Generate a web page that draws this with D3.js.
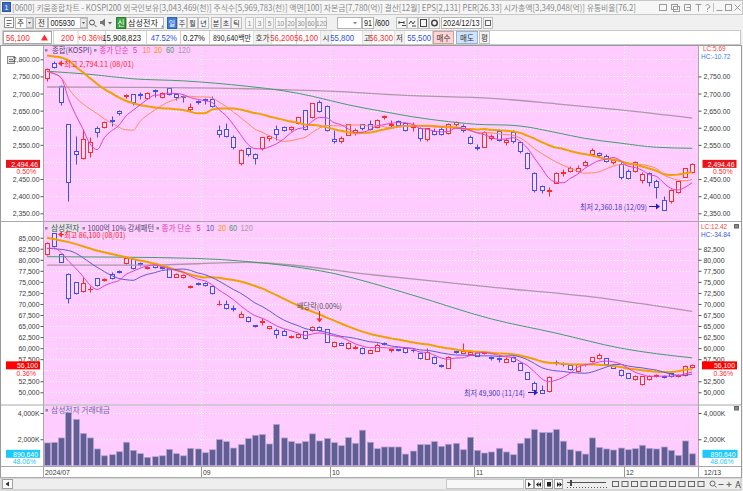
<!DOCTYPE html>
<html><head><meta charset="utf-8">
<script src="https://cdn.jsdelivr.net/npm/d3@7/dist/d3.min.js"></script>
<style>
  html,body{margin:0;padding:0;background:#f0f0f0;}
  svg{display:block;}
</style>
</head><body>
<div id="chart"></div>
<script>
// ---------- data ----------
const dates = ('07/31 08/01 08/02 08/05 08/06 08/07 08/08 08/09 08/12 08/13 08/14 08/16 08/19 08/20 08/21 08/22 08/23 08/26 08/27 08/28 08/29 08/30 ' +
  '09/02 09/03 09/04 09/05 09/06 09/09 09/10 09/11 09/12 09/13 09/19 09/20 09/23 09/24 09/25 09/26 09/27 09/30 ' +
  '10/02 10/04 10/07 10/08 10/10 10/11 10/14 10/15 10/16 10/17 10/18 10/21 10/22 10/23 10/24 10/25 10/28 10/29 10/30 10/31 ' +
  '11/01 11/04 11/05 11/06 11/07 11/08 11/11 11/12 11/13 11/14 11/15 11/18 11/19 11/20 11/21 11/22 11/25 11/26 11/27 11/28 11/29 ' +
  '12/02 12/03 12/04 12/05 12/06 12/09 12/10 12/11 12/12 12/13').split(' ');

const monthLabels = ['2024/07', '09', '10', '11', '12'];

// KOSPI [open, high, low, close]
const kospi = [
  [2746,2776,2736,2771],[2788,2794.11,2776,2778],[2722,2724,2666,2676],[2611,2612,2387,2442],[2532,2576,2493,2522],
  [2512,2595,2508,2568],[2529,2574,2515,2557],[2600,2605,2574,2588],[2601,2621,2598,2618],[2624,2634,2606,2621],
  [2648,2651,2638,2644],[2692,2699,2688,2697],[2698,2700,2666,2674],[2700,2705,2685,2697],[2687,2703,2685,2701],
  [2710,2712,2690,2708],[2690,2705,2688,2702],[2717,2720,2695,2698],[2700,2702,2680,2689],[2693,2696,2675,2690],
  [2654,2673,2650,2662],[2678,2682,2670,2674],[2684,2687,2668,2681],[2683,2694,2660,2665],[2593,2607,2574,2581],
  [2595,2615,2574,2575],[2574,2580,2538,2544],[2496,2537,2491,2536],[2540,2545,2518,2523],[2522,2526,2494,2513],
  [2540,2572,2535,2572],[2571,2580,2562,2575],[2595,2608,2565,2581],[2601,2606,2590,2593],[2595,2605,2590,2602],
  [2613,2632,2610,2632],[2652,2653,2593,2596],[2630,2672,2628,2672],[2674,2681,2645,2650],[2664,2666,2590,2593],
  [2566,2592,2555,2562],[2562,2575,2555,2570],[2580,2612,2578,2610],[2588,2598,2580,2594],[2610,2612,2592,2599],
  [2610,2622,2594,2597],[2601,2625,2598,2623],[2630,2638,2625,2633],[2607,2624,2603,2610],[2620,2622,2605,2609],
  [2615,2617,2590,2594],[2601,2618,2590,2604],[2600,2602,2562,2571],[2566,2600,2560,2600],[2591,2598,2578,2581],
  [2595,2601,2578,2583],[2586,2614,2583,2612],[2610,2620,2605,2618],[2605,2610,2588,2594],[2574,2580,2553,2556],
  [2545,2553,2535,2542],[2545,2590,2543,2589],[2569,2583,2565,2577],[2591,2595,2560,2564],[2557,2570,2550,2565],
  [2588,2592,2555,2561],[2559,2560,2525,2532],[2525,2530,2480,2483],[2467,2470,2412,2417],[2430,2433,2410,2419],
  [2414,2428,2400,2417],[2440,2470,2438,2469],[2468,2478,2460,2472],[2475,2488,2472,2482],[2474,2490,2470,2481],
  [2490,2505,2488,2501],[2524,2540,2520,2534],[2527,2530,2515,2520],[2518,2522,2500,2503],[2500,2510,2495,2505],
  [2495,2500,2450,2456],[2475,2480,2450,2454],[2475,2502,2470,2500],[2448,2470,2440,2464],[2467,2470,2430,2442],
  [2445,2450,2395,2428],[2388,2400,2360.18,2361],[2385,2420,2380,2418],[2412,2445,2408,2443],[2457,2483,2455,2482],
  [2472,2498,2468,2494.46]
];

const kospiMa5 = [2765,2758,2745,2685,2638,2597,2553,2536,2571,2591,2606,2634,2651,2667,2683,2695,2696,2701,2700,2697,
  2688,2683,2679,2674,2653,2635,2609,2580,2552,2539,2538,2544,2553,2567,2585,2597,2601,2619,2630,2629,
  2615,2609,2597,2586,2587,2594,2605,2609,2613,2615,2614,2610,2598,2596,2590,2588,2589,2599,2598,2593,
  2585,2580,2572,2566,2567,2571,2560,2541,2511,2482,2453,2441,2439,2452,2464,2481,2494,2504,2508,2513,
  2504,2488,2484,2476,2463,2458,2439,2423,2418,2426,2440];
const kospiMa10 = [2764,2758,2746,2715,2689,2670,2655,2641,2626,2614,2602,2594,2593,2619,2637,2651,2665,2676,2683,2690,
  2692,2690,2690,2687,2675,2662,2646,2630,2613,2596,2587,2577,2567,2560,2562,2567,2572,2586,2599,2607,
  2606,2605,2608,2608,2608,2604,2607,2603,2599,2601,2604,2608,2604,2604,2602,2601,2600,2598,2597,2591,
  2586,2585,2585,2582,2580,2578,2570,2556,2539,2525,2512,2500,2490,2482,2473,2467,2468,2471,2480,2488,
  2492,2491,2494,2492,2488,2481,2463,2453,2447,2445,2449];
const kospiMa20 = [2811,2808,2805,2797,2778,2762,2745,2728,2713,2701,2689,2679,2672,2666,2663,2659,2657,2656,2654,2652,
  2647,2642,2642,2653,2656,2656,2656,2653,2648,2643,2639,2633,2628,2623,2618,2615,2609,2608,2606,2601,
  2596,2591,2587,2584,2585,2586,2590,2595,2599,2604,2605,2606,2606,2606,2605,2603,2603,2601,2598,2596,
  2595,2596,2594,2593,2591,2589,2585,2577,2568,2558,2549,2542,2538,2532,2527,2523,2519,2514,2509,2507,
  2502,2496,2492,2487,2481,2474,2465,2462,2463,2467,2470];
// sparse readings [day index, value]
const kospiMa60 = [[0,2765],[6,2756],[12,2743],[19,2737],[28,2721],[33,2708],[37,2692],[42,2667],[47,2647],
  [51,2632],[56,2618],[61,2609],[64,2608],[66,2605],[71,2586],[75,2569],[80,2555],[85,2543],[90,2540]];
const kospiMa120 = [[0,2719],[12,2718],[28,2714],[40,2706],[51,2694],[62,2686],[71,2670],[80,2652],[90,2628]];

// Samsung Electronics [open, high, low, close]
const samsung = [
  [81200,84100,81000,83900],[86000,86100,83000,83100],[81200,81300,79500,79600],[76700,76900,70300,71400],[74900,75000,72300,72500],
  [73000,76000,72600,74700],[73300,74000,72700,73400],[75800,75900,74000,74400],[75400,75900,75100,75600],[76700,77200,75700,75800],
  [77400,77600,76900,77200],[79200,80500,79000,80300],[80200,80300,78000,78200],[79300,79500,78700,79000],[78100,78700,78000,78400],
  [78800,79000,78200,78400],[78300,78500,77900,78200],[78200,78300,76000,76200],[76200,77000,76000,76700],[76000,76800,75900,76500],
  [73900,74400,73700,74100],[74800,75000,74400,74600],[74700,75000,74000,74400],[74100,74300,72200,72400],[70000,70900,69700,70100],
  [70100,70800,68900,69000],[69100,69700,68300,68900],[67100,68300,67000,67700],[67100,67200,66000,66200],[65200,65300,64800,65000],
  [65900,66800,65300,66100],[64500,65000,64300,64900],[64100,64500,62200,63100],[63900,64300,62900,63000],[62600,63000,62300,62800],
  [62600,63500,62400,63300],[63800,63900,62100,62200],[64000,64900,63800,64700],[64700,65000,63900,64200],[64300,64400,61400,61500],
  [60400,61700,60200,61300],[61200,61400,60600,60700],[60100,61300,59900,61100],[60100,60600,59800,60300],[60100,60200,58700,58900],
  [59000,59900,58800,59500],[59400,61200,59300,60800],[61100,61300,60600,61000],[59500,59900,59200,59700],[59700,59900,59300,59600],
  [60000,60100,59000,59200],[59600,59800,59100,59500],[59000,59100,57600,57700],[57600,60000,57500,59100],[58100,58300,56500,56600],
  [56200,56500,55700,55900],[55600,58300,55500,58100],[59300,59600,58900,59100],[59000,61100,58800,59300],[58700,59500,58500,59200],
  [59200,59300,58200,58300],[59000,59400,58600,59200],[57900,58200,57300,57700],[57700,58000,56900,57500],[56950,57900,56800,57650],
  [58000,58300,56900,57000],[56700,56800,55000,55000],[54600,54700,52900,53000],[52100,52600,50300,50600],[50500,51700,49900,49900],
  [50200,53800,50100,53500],[56800,57300,56200,56700],[56500,56900,56000,56300],[56100,56200,55000,55300],[54900,56700,54700,56400],
  [56400,56700,55900,56300],[57100,58000,56900,57900],[57700,58800,57500,58400],[57700,57800,56100,56300],[55900,56300,55400,55600],
  [55100,55200,53800,53900],[54300,54400,53200,53300],[52900,53900,52800,53700],[51800,53700,51600,53600],[53000,54000,52800,53700],
  [53600,54100,53400,53900],[53600,53900,53200,53400],[54300,54500,53500,53700],[53600,54100,53400,53900],[53900,56200,53800,55900],
  [55800,56300,55500,56100]
];

const samsungMa5 = [82600,82600,81600,79700,78100,76260,74320,73280,74120,74780,75280,76660,77420,78100,78620,78860,78440,78040,77580,77200,
  76340,75620,75260,74400,73120,72100,70960,69620,68380,67360,66780,65980,65060,64420,63980,63420,62880,63200,63440,63180,
  62780,62480,61760,60980,60460,60100,60120,60100,59980,60120,60060,59800,59140,59020,58420,57760,57480,57760,57800,58320,
  58800,59020,58740,58380,58070,57810,56970,56030,54650,53100,52400,52740,53400,54340,55640,56200,56440,56860,57060,56900,
  56420,55500,54560,54020,53640,53640,53660,53660,53720,54160,54600];
const samsungMa10 = [82600,null,null,82100,null,null,null,78300,null,76440,75770,75490,75350,76110,76700,77070,77550,77730,77840,77910,
  77600,77030,76650,75990,75160,74220,73290,72440,71390,70240,69440,68470,67340,66400,65670,65100,64430,64130,63930,63580,
  63100,62680,62480,62210,61820,61440,61300,60930,60480,60290,60080,59960,59620,59500,59270,58910,58640,58450,58410,58370,
  58280,58250,58250,58090,58195,58305,57995,57385,56515,55585,55105,54855,54715,54495,54370,54300,54590,55130,55700,56270,
  56310,55970,55710,55540,55270,55030,54580,54110,53870,53900,54120];
const samsungMa20 = [85000,null,null,84000,null,null,null,82100,null,null,null,null,80200,null,null,null,78700,null,null,77175,
  76685,76260,76000,76050,75930,75645,75420,75085,74615,74075,73520,72750,71995,71195,70415,69660,68860,68285,67660,66910,
  66270,65575,64910,64305,63745,63270,62865,62530,62205,61935,61590,61320,61050,60855,60545,60175,59970,59690,59445,59330,
  59180,59105,58935,58795,58733,58608,58318,57918,57463,56978,56693,56553,56483,56293,56283,56303,56293,56258,56108,55928,
  55708,55413,55213,55018,54820,54665,54585,54620,54785,55085,55215];
const samsungMa60 = [[0,80700],[10,80600],[21,80300],[28,79600],[40,76900],[51,72000],[62,66600],[71,63400],[80,60000],[90,57800]];
const samsungMa120 = [[0,78800],[14,78800],[28,79400],[46,76500],[62,73800],[76,71600],[90,68300]];

// Samsung trading value, in K (x 1,000 백만원)
const tradeValue = [1.72,1.76,2.1,4.03,3.51,2.44,2.1,1.26,0.74,0.82,1.05,1.77,1.15,0.9,0.62,0.67,0.74,1.23,0.9,0.74,1.31,1.26,
  0.97,1.2,1.97,1.82,1.33,1.59,2.05,2.3,2.36,1.64,3.13,2.1,1.82,1.69,1.82,2.41,1.87,2.05,
  1.74,1.51,2.13,1.69,2.69,1.77,1.28,1.41,1.41,1.41,0.87,1.1,1.59,1.59,1.82,1.46,1.62,1.69,1.2,2.15,
  1.15,0.95,1.03,1.31,1.03,0.82,1.69,2.08,2.74,2.51,2.51,2.74,1.85,1.2,1.1,0.87,2.1,1.38,1.26,1.18,1.33,
  1.2,1.28,1.54,1.31,1.26,1.41,1.15,0.77,1.87,0.89];

const kospiTicks = d3.range(2350, 2801, 50);
const samsungTicks = d3.range(50000, 85001, 2500);
const valueTicks = [2000, 4000];

// ---------- look ----------
const NUM = "'Liberation Sans',Arial,sans-serif";
const KR = "'Noto Sans CJK KR','Noto Sans',sans-serif";
const SYM = "'DejaVu Sans',sans-serif";
const PINK = '#ffccff', RED = '#ff2a2a', BLUE = '#4050ee';
const BODY = '#ffdcff';
const maColorsK = ['#e040c8', '#ff8a5c', '#f0a000', '#3f9e6c', '#ab98a8'];
const maColorsS = ['#e040c8', '#5c5cd0', '#f0a000', '#3f9e6c', '#ab98a8'];

const svg = d3.select('#chart').append('svg').attr('width', 743).attr('height', 491)
  .style('font-family', NUM);

svg.append('rect').attr('width', 743).attr('height', 491).attr('fill', '#f0f0f0');

// text helper; o.len squeezes the text to a measured width, numeric text gets class "n"
function t(g, x, y, s, o = {}) {
  const el = g.append('text').attr('x', x).attr('y', y).text(s)
    .attr('font-size', o.size || 8).attr('fill', o.fill || '#333')
    .attr('font-family', o.font || NUM).attr('text-anchor', o.anchor || 'start');
  if (o.len) el.attr('textLength', o.len).attr('lengthAdjust', 'spacingAndGlyphs');
  else if (!o.font) el.classed('n', true);
  return el;
}
function box(g, x, y, w, h, fill, stroke) {
  return g.append('rect').attr('x', x).attr('y', y).attr('width', w).attr('height', h)
    .attr('fill', fill || '#fff').attr('stroke', stroke || '#b4b4b4');
}

// ---------- window chrome ----------
const hdr = svg.append('g');
box(hdr, 0.5, 0.5, 742, 14, '#f6f6f6', '#c8c8c8');
box(hdr, 2.5, 2.5, 8, 9, '#3a6cc8', '#2a50a0');
t(hdr, 6.5, 10, '1', { fill: '#fff', anchor: 'middle', size: 8 });
t(hdr, 12, 10.5, '[0600] 키움종합차트 - KOSPI200 외국인보유[3,043,469(천)] 주식수[5,969,783(천)] 액면[100] 자본금[7,780(억)] 결산[12월] EPS[2,131] PER[26.33] 시가총액[3,349,048(억)] 유통비율[76.2]',
  { font: KR, size: 8.5, fill: '#8a8a8a', len: 624 });
// title-bar buttons drawn as small shapes
const ib = hdr.append('g').attr('fill', 'none').attr('stroke', '#9a9a9a');
ib.append('rect').attr('x', 659.5).attr('y', 4.5).attr('width', 7).attr('height', 6);
ib.append('rect').attr('x', 671.5).attr('y', 4.5).attr('width', 6).attr('height', 5);
ib.append('rect').attr('x', 673.5).attr('y', 6.5).attr('width', 6).attr('height', 5);
ib.append('path').attr('d', 'M684.5 4.5h6v6h-6zM686.5 7.5h4');
ib.append('path').attr('d', 'M695.5 4.5h6M698.5 4.5v7');
ib.append('path').attr('d', 'M705.5 5.5q2-2 4 0t-2 3v1.5M707.5 11v1');
ib.append('path').attr('d', 'M716.5 10.5h6');
ib.append('rect').attr('x', 725.5).attr('y', 4.5).attr('width', 6).attr('height', 6);
ib.append('path').attr('d', 'M734.5 4.5l6 6M740.5 4.5l-6 6');
hdr.append('line').attr('x1', 713.5).attr('x2', 713.5).attr('y1', 3).attr('y2', 12).attr('stroke', '#c0c0c0');

// toolbar row
const tb = svg.append('g');
box(tb, 4.5, 17.5, 9, 10, '#fff', '#909090');
tb.append('path').attr('d', 'M6.5 20.5h5M6.5 23.5h5M6.5 25.5h3').attr('stroke', '#707070');
box(tb, 15.5, 17.5, 18, 11);
t(tb, 17, 26, '주', { font: KR, size: 7.5 });
box(tb, 26.5, 18.5, 6, 9, '#e8e8e8', '#c0c0c0');
tb.append('path').attr('d', 'M28 22h3l-1.5 2z').attr('fill', '#555');
box(tb, 35.5, 17.5, 12, 11, '#f4f4f4');
t(tb, 41.5, 26, '전', { font: KR, size: 7.5, anchor: 'middle' });
box(tb, 48.5, 17.5, 39, 11);
t(tb, 50.5, 26, '005930', { size: 8.5, fill: '#222' });
box(tb, 80.5, 18.5, 6, 9, '#e8e8e8', '#c0c0c0');
tb.append('path').attr('d', 'M82 22h3l-1.5 2z').attr('fill', '#555');
tb.append('circle').attr('cx', 92).attr('cy', 22.5).attr('r', 2.5).attr('fill', 'none').attr('stroke', '#555');
tb.append('line').attr('x1', 94).attr('y1', 24.5).attr('x2', 96.5).attr('y2', 27).attr('stroke', '#555');
tb.append('path').attr('d', 'M100 21h2l3-2.5v8l-3-2.5h-2z').attr('fill', '#777');
tb.append('path').attr('d', 'M108 22h4l-2 2.5z').attr('fill', '#666');
box(tb, 116.5, 17.5, 9, 11, '#3aa040', '#2a8030');
t(tb, 121, 26, '신', { font: KR, size: 7.5, fill: '#fff', anchor: 'middle' });
box(tb, 126.5, 17.5, 37, 11);
t(tb, 128, 26, '삼성전자', { font: KR, size: 8, fill: '#222', len: 30 });
tb.append('path').attr('d', 'M161 27.5l2-3v3z').attr('fill', '#888');
const periods = [[167, 9, '일'], [177, 9, '주'], [187, 10, '월'], [198, 10, '년'], [211, 9, '분'], [221, 9, '초'], [231, 10, '틱']];
periods.forEach((d, i) => {
  box(tb, d[0] + 0.5, 17.5, d[1], 11, i === 0 ? '#3d7fd8' : '#f6f6f6', i === 0 ? '#2f62b0' : '#c0c0c0');
  t(tb, d[0] + 0.5 + d[1] / 2, 26, d[2], { font: KR, size: 7, anchor: 'middle', fill: i === 0 ? '#fff' : '#333' });
});
const mins = [[245, 8, '1'], [255, 8, '3'], [265, 8, '5'], [275, 10, '10'], [286, 9, '20'], [296, 9, '30'], [306, 9, '60'], [316, 10, '120']];
mins.forEach(d => {
  box(tb, d[0] + 0.5, 17.5, d[1], 11, '#f6f6f6', '#c8c8c8');
  t(tb, d[0] + 0.5 + d[1] / 2, 26, d[2], { size: 7.5, anchor: 'middle', fill: '#8a8a8a' });
});
box(tb, 337.5, 17.5, 24, 11);
tb.append('path').attr('d', 'M353 22h4l-2 2.5z').attr('fill', '#888');
box(tb, 362.5, 17.5, 11, 11);
t(tb, 372, 26, '91', { size: 8.5, anchor: 'end', fill: '#222' });
t(tb, 375, 26, '/600', { size: 8.5, fill: '#222' });
[396, 407, 418, 429].forEach(x => box(tb, x + 0.5, 17.5, 10, 11, '#f6f6f6', '#c0c0c0'));
tb.append('path').attr('d', 'M399 22.5h5M399 21v3M404 21v3M402 25.5h4').attr('stroke', '#444').attr('fill', 'none');
tb.append('path').attr('d', 'M409 24l2-3 2 3 2-3M412 26h4').attr('stroke', '#444').attr('fill', 'none');
tb.append('rect').attr('x', 420.5).attr('y', 19.5).attr('width', 6).attr('height', 7).attr('fill', 'none').attr('stroke', '#444');
tb.append('circle').attr('cx', 434.5).attr('cy', 23).attr('r', 2.8).attr('fill', 'none').attr('stroke', '#444').attr('stroke-width', 1.5);
box(tb, 441.5, 17.5, 40, 11);
t(tb, 443, 26, '2024/12/13', { size: 8.5, fill: '#222' });
box(tb, 483.5, 17.5, 9, 11, '#f6f6f6', '#c0c0c0');
tb.append('rect').attr('x', 485.5).attr('y', 20.5).attr('width', 5).attr('height', 5).attr('fill', 'none').attr('stroke', '#666');

// quote row
const qr = svg.append('g');
box(qr, 2.5, 30.5, 738, 14, '#fff', '#c8c8c8');
box(qr, 3.5, 31.5, 48, 12, 'none', '#a8a8a8');
const cells = [53, 77.5, 105, 146, 180, 209, 253, 271, 296, 320, 331, 362, 371, 394, 404, 432];
cells.forEach(x => qr.append('line').attr('x1', x + 0.5).attr('x2', x + 0.5).attr('y1', 31).attr('y2', 44).attr('stroke', '#d0d0d0'));
[[253, 18, '호가'], [320, 11, '시'], [362, 9, '고'], [394, 10, '저']].forEach(d => {
  box(qr, d[0] + 0.5, 31, d[1], 13, '#f2f2f2', 'none');
  t(qr, d[0] + 0.5 + d[1] / 2, 41, d[2], { font: KR, size: 7.5, anchor: 'middle' });
});
t(qr, 6, 41, '56,100', { size: 9, fill: RED });
qr.append('path').attr('d', 'M41 40.5l3.5-6 3.5 6z').attr('fill', RED);
t(qr, 74, 41, '200', { size: 9, fill: RED, anchor: 'end' });
t(qr, 104, 41, '+0.36%', { size: 9, fill: RED, anchor: 'end' });
t(qr, 141, 41, '15,908,823', { size: 9, fill: '#222', anchor: 'end' });
t(qr, 177, 41, '47.52%', { size: 9, fill: '#3050e0', anchor: 'end' });
t(qr, 205, 41, '0.27%', { size: 9, fill: '#222', anchor: 'end' });
t(qr, 213, 41, '890,640백만', { size: 8, fill: '#222', font: KR, len: 38 });
t(qr, 294, 41, '56,200', { size: 9, fill: RED, anchor: 'end' });
t(qr, 318, 41, '56,100', { size: 9, fill: RED, anchor: 'end' });
t(qr, 354, 41, '55,800', { size: 9, fill: '#3050e0', anchor: 'end' });
t(qr, 393, 41, '56,300', { size: 9, fill: RED, anchor: 'end' });
t(qr, 431, 41, '55,500', { size: 9, fill: '#3050e0', anchor: 'end' });
box(qr, 433.5, 31.5, 20, 12, '#ffd4d4', '#d0a0a0');
t(qr, 443.5, 41, '매수', { font: KR, size: 7.5, anchor: 'middle' });
box(qr, 456.5, 31.5, 21, 12, '#cfe2ff', '#9ab0d0');
t(qr, 467, 41, '매도', { font: KR, size: 7.5, anchor: 'middle' });
box(qr, 479.5, 31.5, 10, 12, '#f4f4f4', '#c0c0c0');
t(qr, 484.5, 41, '평', { font: KR, size: 7.5, anchor: 'middle' });

// ---------- chart frame ----------
const frame = svg.append('g');
box(frame, 0.5, 45.5, 741, 432, '#fff', '#9a9a9a');
const panels = [[46, 221], [222, 404.5], [405.5, 466]];
panels.forEach(p => frame.append('rect').attr('x', 44).attr('y', p[0]).attr('width', 654.5).attr('height', p[1] - p[0]).attr('fill', PINK));
[221.5, 405, 466.5].forEach(y => frame.append('line').attr('x1', 1).attr('x2', 741).attr('y1', y).attr('y2', y).attr('stroke', '#a8a8a8'));
[43.5, 698.5].forEach(x => frame.append('line').attr('x1', x).attr('x2', x).attr('y1', 46).attr('y2', 477).attr('stroke', '#a8a8a8'));
// small panel-menu icon at the top left
box(frame, 7.5, 56.5, 7, 7, '#e4e4e4', '#8a8a8a');
frame.append('path').attr('d', 'M9 59.5h4M9 61.5h4').attr('stroke', '#777');

// ---------- scales ----------
const xb = d3.scaleBand().domain(d3.range(dates.length)).range([43.4, 695.8]);
const xc = i => Math.round(xb(i) + xb.bandwidth() / 2);
const yK = d3.scaleLinear().domain([2350, 2800]).range([213.3, 59.3]);
const yS = d3.scaleLinear().domain([50000, 85000]).range([392.3, 237.7]);
const yV = d3.scaleLinear().domain([0, 4000]).range([465.5, 413]);
const px = v => Math.round(v) + 0.5;

const monthIdx = monthLabels.map((m, k) => k === 0 ? 0 : dates.findIndex(d => d.startsWith(m + '/')));

// grid
const grid = svg.append('g').attr('stroke', '#ffffff').attr('stroke-dasharray', '1,2');
[[kospiTicks, yK], [samsungTicks, yS], [valueTicks, yV]].forEach(([ticks, y]) => {
  grid.append('g').selectAll('line').data(ticks).join('line')
    .attr('x1', 44).attr('x2', 698).attr('y1', d => px(y(d))).attr('y2', d => px(y(d)));
});
grid.append('g').selectAll('line').data(monthIdx.slice(1)).join('line')
  .attr('x1', i => px(xb(i))).attr('x2', i => px(xb(i))).attr('y1', 46).attr('y2', 466);

// axes
function styleAxis(g) {
  g.select('.domain').remove();
  g.attr('font-family', NUM).attr('font-size', 8);
  g.selectAll('line').attr('stroke', '#555');
  g.selectAll('text').attr('fill', '#3a3a3a').classed('n', true);
}
const fK = d3.format(',.2f'), fS = d3.format(',');
svg.append('g').attr('transform', 'translate(43.5,0)')
  .call(d3.axisLeft(yK).tickValues(kospiTicks.filter(v => v !== 2500)).tickSize(3).tickPadding(1).tickFormat(fK)).call(styleAxis);
svg.append('g').attr('transform', 'translate(698.5,0)')
  .call(d3.axisRight(yK).tickValues(kospiTicks.filter(v => v !== 2500 && v !== 2800)).tickSize(3).tickPadding(2).tickFormat(fK)).call(styleAxis);
svg.append('g').attr('transform', 'translate(43.5,0)')
  .call(d3.axisLeft(yS).tickValues(samsungTicks.filter(v => v !== 55000)).tickSize(3).tickPadding(1).tickFormat(fS)).call(styleAxis);
svg.append('g').attr('transform', 'translate(698.5,0)')
  .call(d3.axisRight(yS).tickValues(samsungTicks.filter(v => v !== 55000 && v !== 85000)).tickSize(3).tickPadding(2).tickFormat(fS)).call(styleAxis);
svg.append('g').attr('transform', 'translate(43.5,0)')
  .call(d3.axisLeft(yV).tickValues(valueTicks).tickSize(3).tickPadding(1).tickFormat(d => fS(d) + 'K')).call(styleAxis);
svg.append('g').attr('transform', 'translate(698.5,0)')
  .call(d3.axisRight(yV).tickValues(valueTicks).tickSize(3).tickPadding(2).tickFormat(d => fS(d) + 'K')).call(styleAxis);

// x axis labels
const xa = svg.append('g');
xa.selectAll('line').data(monthIdx.slice(1)).join('line')
  .attr('x1', i => px(xb(i))).attr('x2', i => px(xb(i))).attr('y1', 467).attr('y2', 477).attr('stroke', '#999');
xa.selectAll('text').data(monthIdx).join('text').classed('n', true)
  .attr('x', (i, k) => k === 0 ? 45 : px(xb(i)) + 1.5).attr('y', 475)
  .attr('font-size', 8).attr('fill', '#3a3a3a').text((i, k) => monthLabels[k]);
t(xa, 704, 475, dates[dates.length - 1], { size: 8, fill: '#3a3a3a' });

// ---------- candles ----------
function drawCandles(data, y) {
  const g = svg.append('g');
  const col = (d, i) => {
    const prev = i > 0 ? data[i - 1][3] : d[0];
    return (d[3] > d[0] || (d[3] === d[0] && d[3] >= prev)) ? RED : BLUE;
  };
  data.forEach((d, i) => {
    const c = xc(i), color = col(d, i);
    const yt = px(y(Math.max(d[0], d[3]))), yb = px(y(Math.min(d[0], d[3])));
    const yh = px(y(d[1])), yl = px(y(d[2]));
    if (yb - yt < 1) {
      g.append('line').attr('x1', c + 0.5).attr('x2', c + 0.5).attr('y1', yh).attr('y2', yl).attr('stroke', color);
      g.append('line').attr('x1', c - 2).attr('x2', c + 3).attr('y1', yt).attr('y2', yt).attr('stroke', color);
    } else {
      if (yh < yt) g.append('line').attr('x1', c + 0.5).attr('x2', c + 0.5).attr('y1', yh).attr('y2', yt).attr('stroke', color);
      if (yl > yb) g.append('line').attr('x1', c + 0.5).attr('x2', c + 0.5).attr('y1', yb).attr('y2', yl).attr('stroke', color);
      g.append('rect').attr('x', c - 1.5).attr('y', yt).attr('width', 4).attr('height', yb - yt)
        .attr('fill', BODY).attr('stroke', color);
    }
  });
}
drawCandles(kospi, yK);
drawCandles(samsung, yS);

// trading value bars
svg.append('g').selectAll('rect').data(tradeValue).join('rect')
  .attr('x', (d, i) => xc(i) - 2.5).attr('width', 6)
  .attr('y', d => yV(d * 1000)).attr('height', d => yV(0) - yV(d * 1000))
  .attr('fill', '#605e92').attr('stroke', '#b4a4d8').attr('stroke-width', 0.7);

// ---------- moving averages ----------
const toPts = arr => Array.isArray(arr[0]) ? arr : arr.map((v, i) => [i, v]).filter(d => d[1] != null);
function drawMa(series, y, colors) {
  const g = svg.append('g').attr('fill', 'none');
  const widths = [1, 1, 2, 1, 1.3];
  // long averages first, short ones on top
  [4, 3, 2, 1, 0].forEach(k => {
    const line = d3.line().x(d => xb(d[0]) + xb.bandwidth() / 2).y(d => y(d[1])).curve(d3.curveMonotoneX);
    g.append('path').attr('d', line(toPts(series[k]))).attr('stroke', colors[k]).attr('stroke-width', widths[k]);
  });
}
drawMa([kospiMa5, kospiMa10, kospiMa20, kospiMa60, kospiMa120], yK, maColorsK);
drawMa([samsungMa5, samsungMa10, samsungMa20, samsungMa60, samsungMa120], yS, maColorsS);

// ---------- legends ----------
function bullet(g, x, y) { g.append('rect').attr('x', x).attr('y', y - 4).attr('width', 2.5).attr('height', 2.5).attr('fill', '#8a8a9a'); }
const lg = svg.append('g');
bullet(lg, 45, 53);
t(lg, 52, 53, '종합(KOSPI)', { font: KR, size: 8, fill: '#4a4a6a', len: 40 });
bullet(lg, 94, 53);
t(lg, 99.5, 53, '종가 단순', { font: KR, size: 8, fill: '#e040a8', len: 29 });
[[133, '5'], [142.5, '10'], [154, '20'], [166, '60'], [178, '120']].forEach((d, k) =>
  t(lg, d[0], 53, d[1], { size: 8.5, fill: k === 0 ? '#e040a8' : maColorsK[k] }));

bullet(lg, 45, 231);
box(lg, 49.5, 222.5, 31, 10, '#e6e6e6', 'none');
t(lg, 51, 230.5, '삼성전자', { font: KR, size: 8, fill: '#4a4a6a', len: 28.5 });
bullet(lg, 82.5, 231);
t(lg, 87.5, 230.5, '1000억 10% 강세패턴', { font: KR, size: 8, fill: '#4a4a6a', len: 66.5 });
bullet(lg, 156.5, 231);
t(lg, 161.5, 230.5, '종가 단순', { font: KR, size: 8, fill: '#e040a8', len: 30 });
[[196.5, '5'], [206, '10'], [218, '20'], [229, '60'], [240.5, '120']].forEach((d, k) =>
  t(lg, d[0], 230.5, d[1], { size: 8.5, fill: k === 0 ? '#e040a8' : maColorsS[k] }));

bullet(lg, 45.5, 413);
t(lg, 51, 413, '삼성전자 거래대금', { font: KR, size: 8, fill: '#6a68a8', len: 59 });

// ---------- annotations ----------
const an = svg.append('g');
function arrowLeft(g, x, y, len, color) {
  g.append('path').attr('d', `M${x} ${y}l4 -3v6z`).attr('fill', color);
  g.append('line').attr('x1', x + 3).attr('x2', x + len).attr('y1', y).attr('y2', y).attr('stroke', color);
}
function arrowRight(g, x, y, len, color) {
  g.append('line').attr('x1', x).attr('x2', x + len - 3).attr('y1', y).attr('y2', y).attr('stroke', color);
  g.append('path').attr('d', `M${x + len} ${y}l-4 -3v6z`).attr('fill', color);
}
const hiK = d3.maxIndex(kospi, d => d[1]), loK = d3.minIndex(kospi, d => d[2]);
const hiS = d3.maxIndex(samsung, d => d[1]), loS = d3.minIndex(samsung, d => d[2]);
arrowLeft(an, xc(hiK) + 4, px(yK(kospi[hiK][1])) + 2, 6, RED);
t(an, xc(hiK) + 10, px(yK(kospi[hiK][1])) + 5, `최고 ${fK(kospi[hiK][1])} (${dates[hiK]})`, { font: KR, size: 8, fill: RED, len: 70 });
t(an, xc(loK) - 84, px(yK(kospi[loK][2])) - 1, `최저 ${fK(kospi[loK][2])} (${dates[loK]})`, { font: KR, size: 8, fill: '#3c3cc0', len: 67 });
arrowRight(an, xc(loK) - 15, px(yK(kospi[loK][2])) - 4, 11, '#2020c0');
arrowLeft(an, xc(hiS) + 4, px(yS(samsung[hiS][1])) + 1, 6, RED);
t(an, xc(hiS) + 10, px(yS(samsung[hiS][1])) + 4, `최고 ${fS(samsung[hiS][1])} (${dates[hiS]})`, { font: KR, size: 8, fill: RED, len: 61.5 });
t(an, xc(loS) - 78, px(yS(samsung[loS][2])) + 2, `최저 ${fS(samsung[loS][2])} (${dates[loS]})`, { font: KR, size: 8, fill: '#3c3cc0', len: 61 });
arrowRight(an, xc(loS) - 14, px(yS(samsung[loS][2])) - 1, 10, '#2020c0');
// ex-dividend marker on 09/27
const exDiv = dates.indexOf('09/27');
t(an, xc(exDiv) - 22, 309, '배당락(0.00%)', { font: KR, size: 8, fill: '#505050', len: 45 });
an.append('line').attr('x1', xc(exDiv) + 0.5).attr('x2', xc(exDiv) + 0.5).attr('y1', 311).attr('y2', 319).attr('stroke', '#c03030');
an.append('path').attr('d', `M${xc(exDiv) - 2.5} 318.5h6l-3 4z`).attr('fill', RED);

// ---------- current value tags ----------
const tags = svg.append('g');
function tag(x, y, w, label, pct, bg, pc) {
  box(tags, x, y - 4, w, 8, bg, 'none');
  t(tags, x + w - 2, y + 3, label, { size: 8, fill: '#fff', anchor: 'end' });
  t(tags, x + w - 4, y + 10.5, pct, { size: 8, fill: pc, anchor: 'end' });
}
const lastK = kospi[kospi.length - 1][3], lastS = samsung[samsung.length - 1][3], lastV = tradeValue[tradeValue.length - 1];
tag(6, yK(lastK), 34, fK(lastK), '0.50%', '#e8141c', RED);
tag(702.5, yK(lastK), 34, fK(lastK), '0.50%', '#e8141c', RED);
tag(6, yS(lastS), 34, fS(lastS), '0.36%', '#ff0000', RED);
tag(702, yS(lastS), 35, fS(lastS), '0.36%', '#ff0000', RED);
tag(6, yV(lastV * 1000), 34, '890,640', '48.06%', '#1ec8f8', '#1ec8f8');
tag(702.5, yV(lastV * 1000), 35, '890,640', '48.06%', '#1ec8f8', '#1ec8f8');

// LC / HC readouts
t(tags, 703, 51, 'LC:5.69', { size: 7.5, fill: '#ff4040' });
t(tags, 701, 58.5, 'HC:-10.72', { size: 7.5, fill: '#3a7ae8' });
t(tags, 701, 229, 'LC:12.42', { size: 7.5, fill: '#ff4040' });
t(tags, 701, 236.5, 'HC:-34.84', { size: 7.5, fill: '#3a50e0' });
box(tags, 734.5, 224.5, 4, 3.5, '#888', '#666');
box(tags, 734.5, 406.5, 4, 3.5, '#888', '#666');

// ---------- bottom scroll bar ----------
const sb = svg.append('g');
box(sb, 1, 478, 740, 12, '#eeeeee', '#c0c0c0');
box(sb, 2.5, 479.5, 10, 9, '#fafafa', '#a0a0a0');
sb.append('path').attr('d', 'M9 481.5v5l-3.5-2.5z').attr('fill', '#333');
box(sb, 446.5, 479.5, 77, 9, '#f8f8f8', '#c8c8c8');
[526, 535, 545, 555].forEach(x => box(sb, x - 0.5, 479.5, 8, 9, '#fafafa', '#a0a0a0'));
sb.append('path').attr('d', 'M528 482v5l3-2.5z M541 482v5l-2.5-2.5z M538.5 482v5l-2.5-2.5z M547 482h4v4.5h-4z M557 482v5l2.5-2.5z M559.5 482v5l2.5-2.5z').attr('fill', '#222');
sb.append('line').attr('x1', 567).attr('x2', 606).attr('y1', 482.5).attr('y2', 482.5).attr('stroke', '#555');
sb.append('rect').attr('x', 570).attr('y', 480).attr('width', 2).attr('height', 6).attr('fill', '#444');
sb.append('path').attr('d', d3.range(567, 607, 3).map(x => `M${x} 487.5h1`).join('')).attr('stroke', '#555');
const icons = sb.append('g').attr('fill', 'none').attr('stroke', '#666');
d3.range(10).forEach(k => {
  const x = 612.5 + k * 9.5;
  icons.append('rect').attr('x', x).attr('y', 481.5).attr('width', 6).attr('height', 5);
});
icons.append('circle').attr('cx', 712.5).attr('cy', 483.5).attr('r', 2.5);
icons.append('path').attr('d', 'M714.5 485.5l2 2M718.5 484.5h5M726.5 484.5h5M729 482v5');
t(sb, 738, 488, 'A', { size: 8, anchor: 'middle', fill: '#444', font: SYM });

// squeeze numeric text to the narrow bitmap-font width of the original
svg.selectAll('text.n').each(function () {
  const w = this.getComputedTextLength();
  if (w > 0) d3.select(this).attr('textLength', (w * 0.86).toFixed(1)).attr('lengthAdjust', 'spacingAndGlyphs');
});
</script>
</body></html>
